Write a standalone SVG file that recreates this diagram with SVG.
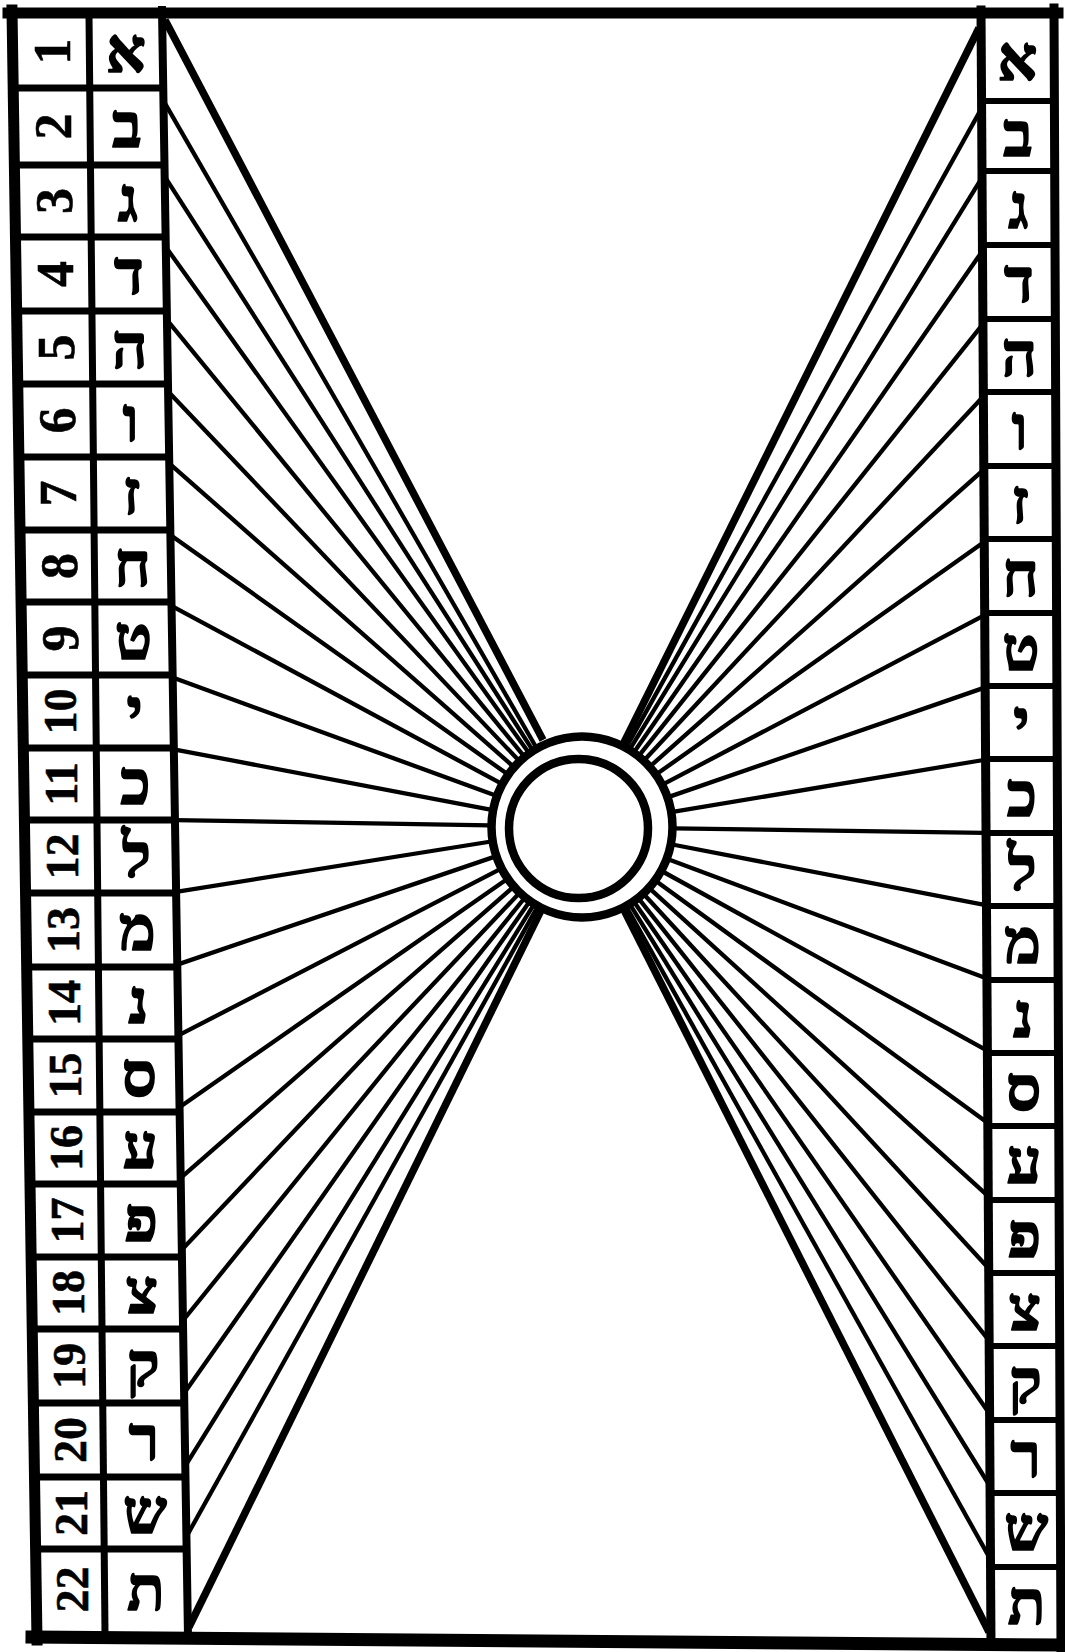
<svg xmlns="http://www.w3.org/2000/svg" width="1065" height="1652" viewBox="0 0 1065 1652">
<style>
.bg{fill:#fff}
.fr{stroke:#000;fill:none;stroke-linecap:square}
.ray{stroke:#000;stroke-width:4.3;fill:none}
.rayk{stroke:#000;stroke-width:7.5;fill:none}
.ring{stroke:#000;stroke-width:8.5;fill:#fff}
.ring2{stroke:#000;stroke-width:8.5;fill:none}
.num{font-family:'Liberation Serif',serif;font-weight:bold;fill:#000;stroke:#000;stroke-width:0.6;text-anchor:middle}
.n1{font-size:52px}
.n2{font-size:46px}
.heb{font-family:'Liberation Serif','DejaVu Sans',serif;font-weight:bold;font-size:62px;fill:#000;stroke:#000;stroke-width:1.6;stroke-linejoin:round;text-anchor:middle}
</style>
<rect class="bg" x="0" y="0" width="1065" height="1652"/>

<g id="connectors">
<path class="rayk" d="M165,20 L543,740"/>
<line class="ray" x1="163.4" y1="100.6" x2="536.1" y2="747.3"/>
<line class="ray" x1="164.6" y1="176.3" x2="532.3" y2="749.6"/>
<line class="ray" x1="165.8" y1="247" x2="528.4" y2="752.3"/>
<line class="ray" x1="166.9" y1="319.8" x2="523.7" y2="755.8"/>
<line class="ray" x1="168.1" y1="391.5" x2="518.6" y2="760.3"/>
<line class="ray" x1="169.2" y1="463.3" x2="513" y2="766.2"/>
<line class="ray" x1="170.4" y1="535" x2="507" y2="773.8"/>
<line class="ray" x1="171.5" y1="605.8" x2="501" y2="783.4"/>
<line class="ray" x1="172.7" y1="677.6" x2="495.6" y2="795.5"/>
<line class="ray" x1="173.8" y1="749.3" x2="491.6" y2="809.8"/>
<line class="ray" x1="174.9" y1="820.1" x2="490" y2="825.4"/>
<line class="ray" x1="176.1" y1="891.9" x2="491.2" y2="841.5"/>
<line class="ray" x1="177.3" y1="964.6" x2="494.9" y2="856.6"/>
<line class="ray" x1="178.4" y1="1035.4" x2="500.2" y2="869.2"/>
<line class="ray" x1="179.5" y1="1107.2" x2="506.5" y2="879.6"/>
<line class="ray" x1="180.7" y1="1177.9" x2="512.7" y2="887.6"/>
<line class="ray" x1="181.8" y1="1249.7" x2="518.7" y2="893.8"/>
<line class="ray" x1="183" y1="1320.5" x2="524.2" y2="898.5"/>
<line class="ray" x1="184.1" y1="1393.2" x2="529.1" y2="902.3"/>
<line class="ray" x1="185.3" y1="1465.9" x2="533.5" y2="905.2"/>
<line class="ray" x1="186.4" y1="1536.7" x2="537.2" y2="907.4"/>
<line class="rayk" x1="189" y1="1627" x2="541.4" y2="909.6"/>

<line class="rayk" x1="979" y1="28" x2="622.9" y2="744.6"/>
<line class="ray" x1="979.6" y1="111.9" x2="626.7" y2="746.6"/>
<line class="ray" x1="980" y1="180.8" x2="630.2" y2="748.7"/>
<line class="ray" x1="980.5" y1="253.7" x2="634.5" y2="751.5"/>
<line class="ray" x1="980.9" y1="326.6" x2="639.4" y2="755.1"/>
<line class="ray" x1="981.4" y1="398.5" x2="644.7" y2="759.7"/>
<line class="ray" x1="981.8" y1="471.4" x2="650.7" y2="765.9"/>
<line class="ray" x1="982.3" y1="543.3" x2="657.1" y2="773.8"/>
<line class="ray" x1="982.7" y1="616.2" x2="663.4" y2="784.2"/>
<line class="ray" x1="983.1" y1="688.1" x2="668.9" y2="796.9"/>
<line class="ray" x1="983.6" y1="760" x2="672.7" y2="811.9"/>
<line class="ray" x1="984" y1="832.9" x2="674" y2="828.4"/>
<line class="ray" x1="984.5" y1="904.8" x2="672.3" y2="844.5"/>
<line class="ray" x1="984.9" y1="977.7" x2="668.2" y2="859.2"/>
<line class="ray" x1="985.4" y1="1049.6" x2="662.6" y2="871.5"/>
<line class="ray" x1="985.8" y1="1121.5" x2="656.3" y2="881.2"/>
<line class="ray" x1="986.2" y1="1194.4" x2="650.1" y2="888.9"/>
<line class="ray" x1="986.7" y1="1266.3" x2="644.3" y2="894.7"/>
<line class="ray" x1="987.1" y1="1338.2" x2="639.1" y2="899.1"/>
<line class="ray" x1="987.6" y1="1411.1" x2="634.5" y2="902.6"/>
<line class="ray" x1="988" y1="1483" x2="630.4" y2="905.2"/>
<line class="ray" x1="988.5" y1="1555.9" x2="626.8" y2="907.4"/>
<line class="rayk" x1="989" y1="1632" x2="623.5" y2="909.1"/>
</g>

<g id="sun">
<circle class="ring" cx="582" cy="827" r="90.5"/>
<circle class="ring2" cx="578.5" cy="828.5" r="69.5"/>
</g>

<g id="frame">
<line class="fr" x1="8" y1="13" x2="1058" y2="13" stroke-width="11"/>
<line class="fr" x1="32" y1="1637" x2="1062" y2="1645" stroke-width="13"/>
</g>

<g id="left-table">
<line class="fr" x1="12" y1="10" x2="37" y2="1640" stroke-width="11"/>
<line class="fr" x1="89" y1="15" x2="105" y2="1632" stroke-width="7"/>
<line class="fr" x1="162" y1="10" x2="188" y2="1636" stroke-width="8"/>
<g stroke="#000" stroke-width="7">
<line x1="13.2" y1="88" x2="163.2" y2="88"/>
<line x1="14.4" y1="165" x2="164.5" y2="165"/>
<line x1="15.5" y1="237" x2="165.6" y2="237"/>
<line x1="16.6" y1="311" x2="166.8" y2="311"/>
<line x1="17.7" y1="384" x2="168" y2="384"/>
<line x1="18.8" y1="457" x2="169.2" y2="457"/>
<line x1="20" y1="530" x2="170.3" y2="530"/>
<line x1="21.1" y1="602" x2="171.5" y2="602"/>
<line x1="22.2" y1="675" x2="172.6" y2="675"/>
<line x1="23.3" y1="748" x2="173.8" y2="748"/>
<line x1="24.4" y1="820" x2="175" y2="820"/>
<line x1="25.5" y1="893" x2="176.1" y2="893"/>
<line x1="26.6" y1="967" x2="177.3" y2="967"/>
<line x1="27.7" y1="1039" x2="178.5" y2="1039"/>
<line x1="28.9" y1="1112" x2="179.6" y2="1112"/>
<line x1="30" y1="1184" x2="180.8" y2="1184"/>
<line x1="31.1" y1="1257" x2="182" y2="1257"/>
<line x1="32.2" y1="1329" x2="183.1" y2="1329"/>
<line x1="33.3" y1="1403" x2="184.3" y2="1403"/>
<line x1="34.4" y1="1477" x2="185.5" y2="1477"/>
<line x1="35.5" y1="1549" x2="186.6" y2="1549"/>
</g>
</g>

<g id="right-table">
<line class="fr" x1="981" y1="10" x2="991" y2="1645" stroke-width="9"/>
<line class="fr" x1="1054" y1="8" x2="1061" y2="1650" stroke-width="9"/>
<g stroke="#000" stroke-width="6">
<line x1="982.6" y1="101" x2="1054.5" y2="101"/>
<line x1="983" y1="171" x2="1054.9" y2="171"/>
<line x1="983.5" y1="245" x2="1055.2" y2="245"/>
<line x1="983.9" y1="319" x2="1055.6" y2="319"/>
<line x1="984.4" y1="392" x2="1056" y2="392"/>
<line x1="984.8" y1="466" x2="1056.3" y2="466"/>
<line x1="985.2" y1="539" x2="1056.7" y2="539"/>
<line x1="985.7" y1="613" x2="1057.1" y2="613"/>
<line x1="986.1" y1="686" x2="1057.4" y2="686"/>
<line x1="986.6" y1="759" x2="1057.8" y2="759"/>
<line x1="987" y1="833" x2="1058.2" y2="833"/>
<line x1="987.4" y1="906" x2="1058.5" y2="906"/>
<line x1="987.9" y1="980" x2="1058.9" y2="980"/>
<line x1="988.3" y1="1053" x2="1059.3" y2="1053"/>
<line x1="988.8" y1="1126" x2="1059.6" y2="1126"/>
<line x1="989.2" y1="1200" x2="1060" y2="1200"/>
<line x1="989.6" y1="1273" x2="1060.4" y2="1273"/>
<line x1="990.1" y1="1346" x2="1060.7" y2="1346"/>
<line x1="990.5" y1="1420" x2="1061.1" y2="1420"/>
<line x1="991" y1="1493" x2="1061.5" y2="1493"/>
<line x1="991.4" y1="1567" x2="1061.8" y2="1567"/>
</g>
</g>

<g id="left-1"><text class="num n1" transform="translate(52,51.5) rotate(-90)" dy="0.35em">1</text><text class="heb" x="126" y="71.5">א</text></g>
<g id="left-2"><text class="num n1" transform="translate(52.9,126.5) rotate(-90)" dy="0.35em">2</text><text class="heb" x="127" y="146.5">ב</text></g>
<g id="left-3"><text class="num n1" transform="translate(53.9,201) rotate(-90)" dy="0.35em">3</text><text class="heb" x="127.9" y="221">ג</text></g>
<g id="left-4"><text class="num n1" transform="translate(54.8,274) rotate(-90)" dy="0.35em">4</text><text class="heb" x="128.9" y="294">ד</text></g>
<g id="left-5"><text class="num n1" transform="translate(55.7,347.5) rotate(-90)" dy="0.35em">5</text><text class="heb" x="129.8" y="367.5">ה</text></g>
<g id="left-6"><text class="num n1" transform="translate(56.6,420.5) rotate(-90)" dy="0.35em">6</text><text class="heb" x="130.8" y="440.5">ו</text></g>
<g id="left-7"><text class="num n1" transform="translate(57.6,493.5) rotate(-90)" dy="0.35em">7</text><text class="heb" x="131.7" y="513.5">ז</text></g>
<g id="left-8"><text class="num n1" transform="translate(58.5,566) rotate(-90)" dy="0.35em">8</text><text class="heb" x="132.7" y="586">ח</text></g>
<g id="left-9"><text class="num n1" transform="translate(59.4,638.5) rotate(-90)" dy="0.35em">9</text><text class="heb" x="133.6" y="658.5">ט</text></g>
<g id="left-10"><text class="num n2" transform="translate(60.3,711.5) rotate(-90)" dy="0.35em">10</text><text class="heb" x="134.6" y="731.5">י</text></g>
<g id="left-11"><text class="num n2" transform="translate(61.2,784) rotate(-90)" dy="0.35em">11</text><text class="heb" x="135.5" y="804">כ</text></g>
<g id="left-12"><text class="num n2" transform="translate(62.1,856.5) rotate(-90)" dy="0.35em">12</text><text class="heb" x="136.5" y="876.5">ל</text></g>
<g id="left-13"><text class="num n2" transform="translate(63.1,930) rotate(-90)" dy="0.35em">13</text><text class="heb" x="137.4" y="950">מ</text></g>
<g id="left-14"><text class="num n2" transform="translate(64,1003) rotate(-90)" dy="0.35em">14</text><text class="heb" x="138.4" y="1023">נ</text></g>
<g id="left-15"><text class="num n2" transform="translate(64.9,1075.5) rotate(-90)" dy="0.35em">15</text><text class="heb" x="139.3" y="1095.5">ס</text></g>
<g id="left-16"><text class="num n2" transform="translate(65.8,1148) rotate(-90)" dy="0.35em">16</text><text class="heb" x="140.2" y="1168">ע</text></g>
<g id="left-17"><text class="num n2" transform="translate(66.7,1220.5) rotate(-90)" dy="0.35em">17</text><text class="heb" x="141.2" y="1240.5">פ</text></g>
<g id="left-18"><text class="num n2" transform="translate(67.6,1293) rotate(-90)" dy="0.35em">18</text><text class="heb" x="142.1" y="1313">צ</text></g>
<g id="left-19"><text class="num n2" transform="translate(68.6,1366) rotate(-90)" dy="0.35em">19</text><text class="heb" x="143.1" y="1386">ק</text></g>
<g id="left-20"><text class="num n2" transform="translate(69.5,1440) rotate(-90)" dy="0.35em">20</text><text class="heb" x="144" y="1460">ר</text></g>
<g id="left-21"><text class="num n2" transform="translate(70.4,1513) rotate(-90)" dy="0.35em">21</text><text class="heb" x="145" y="1533">ש</text></g>
<g id="left-22"><text class="num n2" transform="translate(71.4,1589.5) rotate(-90)" dy="0.35em">22</text><text class="heb" x="146" y="1609.5">ת</text></g>

<g id="right-1"><text class="heb" x="1017.5" y="79.5">א</text></g>
<g id="right-2"><text class="heb" x="1017.9" y="156">ב</text></g>
<g id="right-3"><text class="heb" x="1018.4" y="228">ג</text></g>
<g id="right-4"><text class="heb" x="1018.8" y="302">ד</text></g>
<g id="right-5"><text class="heb" x="1019.3" y="375.5">ה</text></g>
<g id="right-6"><text class="heb" x="1019.7" y="449">ו</text></g>
<g id="right-7"><text class="heb" x="1020.1" y="522.5">ז</text></g>
<g id="right-8"><text class="heb" x="1020.5" y="596">ח</text></g>
<g id="right-9"><text class="heb" x="1021" y="669.5">ט</text></g>
<g id="right-10"><text class="heb" x="1021.4" y="742.5">י</text></g>
<g id="right-11"><text class="heb" x="1021.8" y="816">כ</text></g>
<g id="right-12"><text class="heb" x="1022.3" y="889.5">ל</text></g>
<g id="right-13"><text class="heb" x="1022.7" y="963">מ</text></g>
<g id="right-14"><text class="heb" x="1023.1" y="1036.5">נ</text></g>
<g id="right-15"><text class="heb" x="1023.6" y="1109.5">ס</text></g>
<g id="right-16"><text class="heb" x="1024" y="1183">ע</text></g>
<g id="right-17"><text class="heb" x="1024.4" y="1256.5">פ</text></g>
<g id="right-18"><text class="heb" x="1024.9" y="1329.5">צ</text></g>
<g id="right-19"><text class="heb" x="1025.3" y="1403">ק</text></g>
<g id="right-20"><text class="heb" x="1025.7" y="1476.5">ר</text></g>
<g id="right-21"><text class="heb" x="1026.2" y="1550">ש</text></g>
<g id="right-22"><text class="heb" x="1026.6" y="1623.5">ת</text></g>
</svg>
